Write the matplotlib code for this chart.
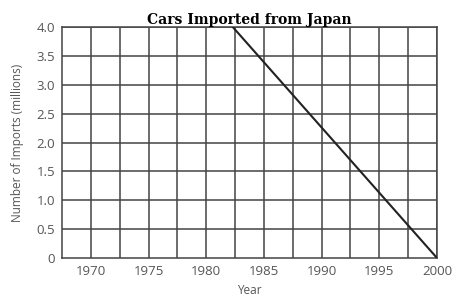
import matplotlib.pyplot as plt
import numpy as np

# data
years = [1982.3, 2000]
imports = [4.0, 0.0]
x_ticks = [1970, 1975, 1980, 1985, 1990, 1995, 2000]
y_ticks = [0, 0.5, 1.0, 1.5, 2.0, 2.5, 3.0, 3.5, 4.0]
y_tick_labels = ['0', '0.5', '1.0', '1.5', '2.0', '2.5', '3.0', '3.5', '4.0']

grid_color = '#444444'
text_color = '#555555'

fig = plt.figure(figsize=(4.53, 2.97), dpi=100)
ax = fig.add_axes([62 / 453, 1 - 258 / 297, 375 / 453, 231 / 297])

ax.set_xlim(1967.5, 2000)
ax.set_ylim(0, 4.0)

for x in np.arange(1970, 2000.1, 2.5):
    ax.axvline(x, color=grid_color, lw=1.1, zorder=1)
for y in np.arange(0.5, 4.01, 0.5):
    ax.axhline(y, color=grid_color, lw=1.1, zorder=1)

ax.plot(years, imports, color='#222222', lw=1.5, zorder=3)

for s in ax.spines.values():
    s.set_color(grid_color)
    s.set_linewidth(1.1)

ax.set_xticks(x_ticks)
ax.set_yticks(y_ticks)
ax.set_yticklabels(y_tick_labels)
ax.tick_params(length=0, pad=5, labelsize=9.5, labelcolor=text_color)
for lab in ax.get_xticklabels() + ax.get_yticklabels():
    lab.set_family('Open Sans')

ax.set_xlabel('Year', fontsize=8.5, color=text_color, family='Open Sans', labelpad=4)
ax.set_ylabel('Number of Imports (millions)', fontsize=8.5, color=text_color,
              family='Open Sans', labelpad=9)
ax.set_title('Cars Imported from Japan', fontsize=10, fontweight='heavy',
             family='DejaVu Serif', pad=1)

fig.savefig('out.png', dpi=100)
